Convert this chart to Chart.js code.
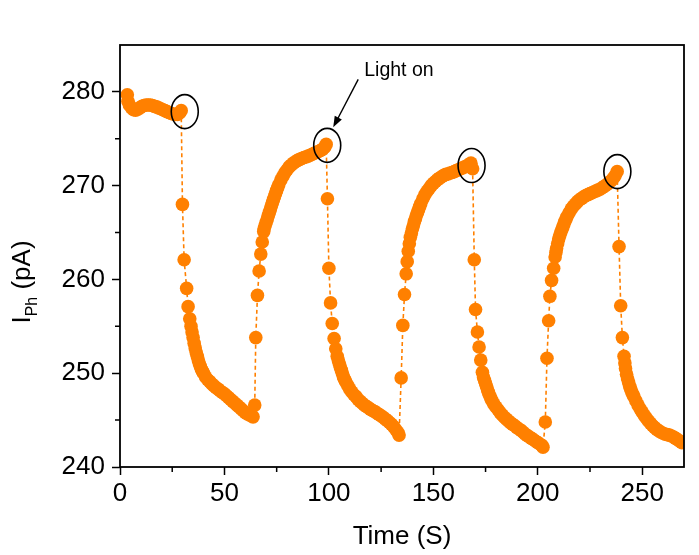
<!DOCTYPE html>
<html lang="en">
<head>
<meta charset="UTF-8">
<title>Photocurrent vs time</title>
<style>
  html, body { margin: 0; padding: 0; background: #fff; }
  canvas { display: block; }
</style>
</head>
<body>
<canvas id="chart" width="699" height="555"></canvas>
<script src="https://cdn.jsdelivr.net/npm/chart.js"></script>
<script>
// time (s) and photocurrent (pA), one pair of arrays per stretch of the trace
const tStart = [3.5, 3.8, 4.5, 5.5, 6.5, 7.5, 8.5, 9.5, 10.5, 11.5, 12.5, 13.5, 14.5, 15.5, 16.5, 17.5, 18.5, 19.5, 20.5, 21.5, 22.5, 23.5, 24.5, 25.5, 26.5, 27.5, 28.5, 29.3];
const iStart = [279.7, 279.0, 278.6, 278.3, 278.1, 278.05, 278.15, 278.3, 278.45, 278.55, 278.6, 278.6, 278.6, 278.55, 278.45, 278.4, 278.3, 278.2, 278.1, 278.0, 277.9, 277.8, 277.7, 277.65, 277.6, 277.6, 277.75, 278.0];

const tFall1 = [29.9, 30.7, 31.9, 32.6, 33.4, 34, 34.5, 35, 35.5, 36, 36.5, 37, 37.5, 38, 38.5, 39, 39.5, 40, 41, 42, 43, 44, 45, 46, 47, 48, 49, 50, 51, 52, 53, 54, 55, 56, 57, 58, 59, 60, 61, 62, 63, 63.7];
const iFall1 = [268.0, 262.1, 259.05, 257.1, 255.8, 255.0, 254.4, 253.8, 253.2, 252.7, 252.2, 251.8, 251.4, 251.0, 250.7, 250.4, 250.2, 250.0, 249.6, 249.3, 249.1, 248.85, 248.65, 248.45, 248.3, 248.1, 247.95, 247.8, 247.6, 247.4, 247.2, 247.0, 246.8, 246.6, 246.4, 246.2, 246.0, 245.8, 245.65, 245.55, 245.45, 245.35];

const tRise1 = [64.5, 65.0, 65.8, 66.6, 67.4, 68.1, 68.8, 69, 69.5, 70, 70.5, 71, 71.5, 72, 72.5, 73, 73.5, 74, 74.5, 75, 75.5, 76, 77, 78, 79, 80, 81, 82, 83, 84, 85, 86, 87, 88, 89, 90, 91, 92, 93, 94, 95, 96, 97, 98, 98.7];
const iRise1 = [246.6, 253.8, 258.3, 260.9, 262.7, 264.0, 265.1, 265.4, 265.75, 266.1, 266.45, 266.8, 267.15, 267.5, 267.85, 268.2, 268.55, 268.9, 269.2, 269.5, 269.8, 270.1, 270.6, 271.0, 271.4, 271.7, 272.0, 272.2, 272.4, 272.55, 272.7, 272.8, 272.9, 273.0, 273.05, 273.15, 273.25, 273.35, 273.45, 273.55, 273.65, 273.75, 273.9, 274.1, 274.4];

const tFall2 = [99.3, 100.0, 100.8, 101.6, 102.5, 103.3, 104, 104.5, 105, 105.5, 106, 106.5, 107, 107.5, 108, 109, 110, 111, 112, 113, 114, 115, 116, 117, 118, 119, 120, 121, 122, 123, 124, 125, 126, 127, 128, 129, 130, 131, 132, 133, 133.6];
const iFall2 = [268.6, 261.2, 257.5, 255.3, 253.7, 252.6, 251.8, 251.4, 251.0, 250.65, 250.3, 249.95, 249.6, 249.35, 249.1, 248.7, 248.3, 248.0, 247.7, 247.5, 247.2, 247.0, 246.8, 246.6, 246.45, 246.3, 246.15, 246.0, 245.9, 245.75, 245.6, 245.45, 245.3, 245.1, 244.95, 244.75, 244.55, 244.3, 244.0, 243.7, 243.4];

const tRise2 = [134.6, 135.4, 136.2, 137.0, 137.5, 138.0, 138.5, 139, 139.5, 140, 140.5, 141, 141.5, 142, 142.5, 143, 143.5, 144, 145, 146, 147, 148, 149, 150, 151, 152, 153, 154, 155, 156, 157, 158, 159, 160, 161, 162, 163, 164, 165, 166, 167, 168, 168.8];
const iRise2 = [249.5, 255.1, 258.4, 260.6, 261.9, 263.0, 263.8, 264.5, 264.95, 265.4, 265.8, 266.2, 266.55, 266.9, 267.2, 267.5, 267.8, 268.1, 268.6, 269.05, 269.4, 269.7, 270.0, 270.25, 270.45, 270.65, 270.8, 270.95, 271.1, 271.2, 271.25, 271.35, 271.4, 271.5, 271.6, 271.7, 271.8, 271.9, 272.0, 272.1, 272.25, 272.4, 271.8];

const tFall3 = [169.6, 170.2, 171.1, 171.9, 172.7, 173.5, 174, 174.5, 175, 175.5, 176, 176.5, 177, 177.5, 178, 179, 180, 181, 182, 183, 184, 185, 186, 187, 188, 189, 190, 191, 192, 193, 194, 195, 196, 197, 198, 199, 200, 201, 202, 202.5];
const iFall3 = [262.1, 256.8, 254.4, 252.8, 251.4, 250.1, 249.6, 249.25, 248.9, 248.55, 248.2, 247.9, 247.6, 247.35, 247.1, 246.7, 246.4, 246.1, 245.8, 245.55, 245.3, 245.1, 244.9, 244.7, 244.55, 244.4, 244.2, 244.05, 243.9, 243.7, 243.5, 243.35, 243.2, 243.05, 242.9, 242.75, 242.6, 242.45, 242.3, 242.1];

const tRise3 = [203.6, 204.4, 205.2, 205.8, 206.6, 207.6, 208.3, 208.7, 209, 209.5, 210, 210.5, 211, 211.5, 212, 212.5, 213, 213.5, 214, 215, 216, 217, 218, 219, 220, 221, 222, 223, 224, 225, 226, 227, 228, 229, 230, 231, 232, 233, 234, 235, 236, 237, 238];
const iRise3 = [244.8, 251.6, 255.6, 258.2, 259.9, 261.2, 262.4, 262.9, 263.3, 263.8, 264.3, 264.65, 265.0, 265.3, 265.6, 265.9, 266.2, 266.45, 266.7, 267.1, 267.5, 267.8, 268.05, 268.3, 268.5, 268.65, 268.8, 268.95, 269.05, 269.15, 269.25, 269.35, 269.45, 269.55, 269.65, 269.8, 269.95, 270.1, 270.3, 270.5, 270.75, 271.05, 271.5];

const tFall4 = [238.9, 239.7, 240.5, 241.3, 241.7, 242, 242.5, 243, 243.5, 244, 244.5, 245, 245.5, 246, 247, 248, 249, 250, 251, 252, 253, 254, 255, 256, 257, 258, 259, 260, 261, 262, 263, 264, 265, 266, 267, 268, 269];
const iFall4 = [263.5, 257.2, 253.8, 251.8, 251.1, 250.5, 249.9, 249.4, 249.0, 248.6, 248.3, 248.0, 247.75, 247.5, 247.05, 246.6, 246.2, 245.85, 245.5, 245.2, 244.9, 244.65, 244.4, 244.2, 244.0, 243.85, 243.7, 243.6, 243.5, 243.45, 243.4, 243.3, 243.2, 243.05, 242.9, 242.75, 242.6];

const xTicks = [0, 50, 100, 150, 200, 250];
const xMinorTicks = [25, 75, 125, 175, 225];
const yTicks = [240, 250, 260, 270, 280];
const yMinorTicks = [245, 255, 265, 275];

// peaks circled on the plot (data units)
const markT = [31, 99.2, 168.3, 238.1];
const markI = [277.9, 274.3, 272.15, 271.5];

const ORANGE = '#FF8000';
const FONT = 'Arial, "Liberation Sans", sans-serif';

const stretches = [
  [tStart, iStart], [tFall1, iFall1], [tRise1, iRise1], [tFall2, iFall2],
  [tRise2, iRise2], [tFall3, iFall3], [tRise3, iRise3], [tFall4, iFall4]
];
const points = [];
stretches.forEach(([ts, vs]) => {
  ts.forEach((t, k) => points.push({ x: t, y: vs[k] }));
});

const extras = {
  id: 'extras',
  afterDatasetsDraw(chart) {
    const { ctx, chartArea: a, scales: { x, y } } = chart;
    ctx.save();
    ctx.strokeStyle = '#000';
    ctx.fillStyle = '#000';
    ctx.lineWidth = 1.6;

    // ellipses around the peaks
    markT.forEach((t, k) => {
      ctx.beginPath();
      ctx.ellipse(x.getPixelForValue(t), y.getPixelForValue(markI[k]), 13.5, 17, 0, 0, Math.PI * 2);
      ctx.stroke();
    });

    // frame and minor ticks
    ctx.lineWidth = 1.8;
    ctx.strokeRect(a.left, a.top, a.right - a.left, a.bottom - a.top);
    ctx.lineWidth = 1.5;
    ctx.beginPath();
    xMinorTicks.forEach(v => {
      const p = x.getPixelForValue(v);
      ctx.moveTo(p, a.bottom);
      ctx.lineTo(p, a.bottom + 5);
    });
    yMinorTicks.forEach(v => {
      const p = y.getPixelForValue(v);
      ctx.moveTo(a.left, p);
      ctx.lineTo(a.left - 5, p);
    });
    ctx.stroke();

    // "Light on" arrow pointing at the second ellipse
    const cx = x.getPixelForValue(markT[1]);
    const cy = y.getPixelForValue(markI[1]);
    const sx = cx + 31, sy = cy - 66;
    const ex = cx + 6, ey = cy - 18;
    const len = Math.hypot(ex - sx, ey - sy);
    const ux = (ex - sx) / len, uy = (ey - sy) / len;
    ctx.lineWidth = 1.4;
    ctx.beginPath();
    ctx.moveTo(sx, sy);
    ctx.lineTo(ex - ux * 8, ey - uy * 8);
    ctx.stroke();
    ctx.beginPath();
    ctx.moveTo(ex, ey);
    ctx.lineTo(ex - ux * 11 - uy * 4, ey - uy * 11 + ux * 4);
    ctx.lineTo(ex - ux * 11 + uy * 4, ey - uy * 11 - ux * 4);
    ctx.closePath();
    ctx.fill();

    ctx.font = '19.5px ' + FONT;
    ctx.textAlign = 'left';
    ctx.textBaseline = 'alphabetic';
    ctx.fillText('Light on', cx + 37, cy - 69);

    // axis titles
    ctx.font = '26px ' + FONT;
    ctx.textAlign = 'center';
    ctx.textBaseline = 'middle';
    ctx.fillText('Time (S)', (a.left + a.right) / 2, 537);

    ctx.translate(30, 282);
    ctx.rotate(-Math.PI / 2);
    ctx.textAlign = 'left';
    ctx.textBaseline = 'alphabetic';
    const big = '26px ' + FONT, small = '16px ' + FONT;
    ctx.font = big;
    const wI = ctx.measureText('I').width;
    const wRest = ctx.measureText(' (pA)').width;
    ctx.font = small;
    const wSub = ctx.measureText('Ph').width;
    let px = -(wI + wSub + wRest) / 2;
    ctx.font = big;
    ctx.fillText('I', px, 0);
    px += wI;
    ctx.font = small;
    ctx.fillText('Ph', px, 7);
    px += wSub;
    ctx.font = big;
    ctx.fillText(' (pA)', px, 0);

    ctx.restore();
  }
};

Chart.defaults.font.family = FONT;

new Chart(document.getElementById('chart'), {
  type: 'line',
  data: {
    datasets: [{
      data: points,
      borderColor: ORANGE,
      borderWidth: 1.6,
      borderDash: [4, 3],
      pointRadius: 6.8,
      pointBackgroundColor: ORANGE,
      pointBorderWidth: 0,
      tension: 0
    }]
  },
  options: {
    responsive: false,
    animation: false,
    events: [],
    layout: { padding: { left: 0, top: 45, right: 15, bottom: 0 } },
    plugins: { legend: { display: false }, tooltip: { enabled: false } },
    scales: {
      x: {
        type: 'linear',
        min: 0,
        max: 270,
        afterBuildTicks: s => { s.ticks = xTicks.map(v => ({ value: v })); },
        afterFit: s => { s.height = 88; },
        border: { display: false },
        grid: { drawOnChartArea: false, tickLength: 8, tickColor: '#000', tickWidth: 1.5 },
        ticks: { color: '#000', font: { size: 26 }, padding: 3, maxRotation: 0 }
      },
      y: {
        type: 'linear',
        min: 240,
        max: 285,
        afterBuildTicks: s => { s.ticks = yTicks.map(v => ({ value: v })); },
        afterFit: s => { s.width = 120; },
        border: { display: false },
        grid: { drawOnChartArea: false, tickLength: 8, tickColor: '#000', tickWidth: 1.5 },
        ticks: { color: '#000', font: { size: 26 }, padding: 7 }
      }
    }
  },
  plugins: [extras]
});
</script>
</body>
</html>
